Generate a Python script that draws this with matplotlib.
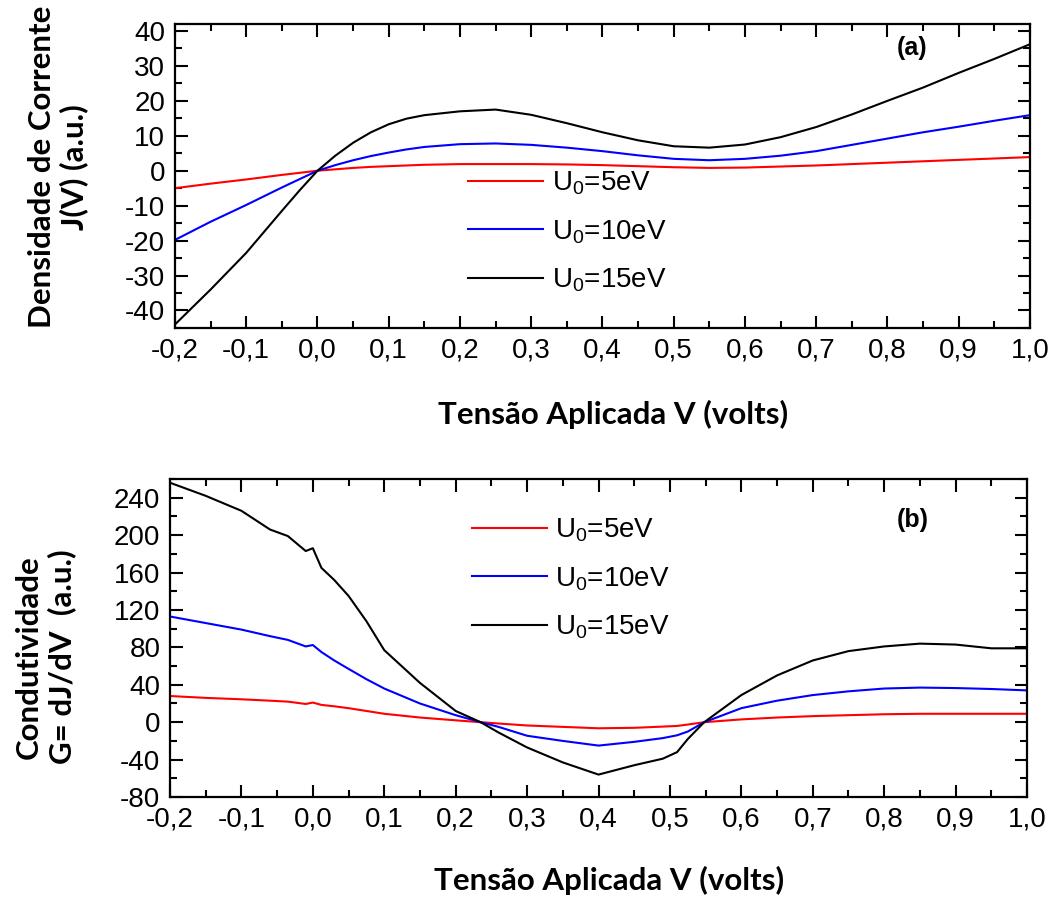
import numpy as np
import matplotlib
matplotlib.use('Agg')
import matplotlib.pyplot as plt
from matplotlib.ticker import MultipleLocator, FuncFormatter

plt.rcParams['font.family'] = ['Liberation Sans', 'DejaVu Sans']
plt.rcParams['mathtext.fontset'] = 'custom'
plt.rcParams['mathtext.rm'] = 'Liberation Sans'
plt.rcParams['mathtext.it'] = 'Liberation Sans'
plt.rcParams['axes.unicode_minus'] = False

# (a) densidade de corrente J(V)
vTop = [-0.2, -0.15, -0.1, -0.05, -0.025, 0.0, 0.025, 0.05, 0.075, 0.1, 0.125, 0.15,
        0.2, 0.25, 0.3, 0.35, 0.4, 0.45, 0.5, 0.55, 0.6, 0.65, 0.7, 0.75, 0.8, 0.85,
        0.9, 0.95, 1.0]
jU5 = [-5.0, -3.7, -2.5, -1.2, -0.6, 0.0, 0.4, 0.8, 1.1, 1.3, 1.5, 1.7,
       1.9, 1.9, 1.9, 1.8, 1.6, 1.3, 1.0, 0.8, 0.9, 1.2, 1.5, 1.9, 2.3, 2.7,
       3.1, 3.5, 3.9]
jU10 = [-19.8, -14.6, -9.8, -4.8, -2.4, 0.0, 1.6, 3.0, 4.2, 5.2, 6.1, 6.8,
        7.6, 7.8, 7.4, 6.6, 5.6, 4.4, 3.4, 3.0, 3.4, 4.3, 5.6, 7.4, 9.2, 11.0,
        12.6, 14.3, 15.9]
jU15 = [-44.0, -34.0, -23.5, -11.5, -5.6, 0.0, 4.3, 8.0, 11.0, 13.3, 14.9, 15.9,
        17.0, 17.5, 16.0, 13.6, 11.0, 8.7, 7.0, 6.6, 7.5, 9.6, 12.5, 16.1, 20.0, 23.8,
        28.0, 32.0, 36.2]

# (b) condutividade G = dJ/dV
vBot = [-0.2, -0.15, -0.1, -0.06, -0.035, -0.01, 0.0, 0.012, 0.03, 0.05, 0.075, 0.1,
        0.15, 0.2, 0.235, 0.26, 0.3, 0.35, 0.4, 0.45, 0.49, 0.51, 0.525, 0.548,
        0.6, 0.65, 0.7, 0.75, 0.8, 0.85, 0.9, 0.95, 1.0]
gU5 = [28, 26, 24.5, 23, 22, 19.5, 21, 18.5, 17, 15, 12, 9,
       5, 2, 0, -1.4, -3.5, -5, -6.5, -6, -4.7, -4, -2.5, 0,
       3, 5, 6.5, 7.5, 8.5, 9, 9, 9, 9]
gU10 = [113, 106, 99, 92, 88, 81, 82.5, 75, 66, 57, 46, 36,
        20, 7.5, 0, -5, -14.5, -20, -25, -21, -17, -14, -10, 0,
        15, 23, 29, 33, 36, 37, 36.5, 35.5, 34]
gU15 = [256, 242, 226, 206, 199, 183, 186, 165, 152, 135, 108, 77,
        42, 12, 0, -11, -27, -43, -56, -46, -39, -32, -18, 0,
        29, 50, 66, 76, 81, 84, 83, 79, 79]

labels = [r'U$_0$=5eV', r'U$_0$=10eV', r'U$_0$=15eV']
colors = ['#ff0000', '#0000ff', '#000000']

boldFont = dict(family='Lato', weight='bold', size=22.5)


def commaFmt(x, pos):
    return ('%.1f' % x).replace('.', ',')


def styleAxis(ax, yMajor, yMinor):
    ax.set_xlim(-0.2, 1.0)
    ax.xaxis.set_major_locator(MultipleLocator(0.1))
    ax.xaxis.set_minor_locator(MultipleLocator(0.05))
    ax.xaxis.set_major_formatter(FuncFormatter(commaFmt))
    ax.yaxis.set_major_locator(MultipleLocator(yMajor))
    ax.yaxis.set_minor_locator(MultipleLocator(yMinor))
    ax.tick_params(which='both', direction='in', top=True, right=True, width=1.5)
    ax.tick_params(which='major', length=9, labelsize=20, pad=7)
    ax.tick_params(which='minor', length=5)
    for s in ax.spines.values():
        s.set_linewidth(1.6)


fig = plt.figure(figsize=(10.58, 9.11), dpi=100)
ax1 = fig.add_axes([0.1654, 0.640, 0.8081, 0.3337])
ax2 = fig.add_axes([0.1607, 0.1251, 0.8100, 0.3491])

for y, lab, c in zip([jU5, jU10, jU15], labels, colors):
    ax1.plot(vTop, y, color=c, lw=1.5, label=lab)
for y, lab, c in zip([gU5, gU10, gU15], labels, colors):
    ax2.plot(vBot, y, color=c, lw=1.5, label=lab)

styleAxis(ax1, 10, 5)
ax1.set_ylim(-45, 42)
styleAxis(ax2, 40, 20)
ax2.set_ylim(-80, 260)

for ax, anchor in [(ax1, (0.343, 0.52)), (ax2, (0.352, 0.881))]:
    ax.legend(loc='upper left', bbox_to_anchor=anchor, frameon=False, fontsize=20,
              handlelength=2.7, handletextpad=0.3, labelspacing=0.75,
              borderpad=0, borderaxespad=0)

ax1.text(0.862, 0.921, '(a)', transform=ax1.transAxes, fontsize=18, fontweight='bold',
         ha='center', va='center')
ax2.text(0.867, 0.871, '(b)', transform=ax2.transAxes, fontsize=18, fontweight='bold',
         ha='center', va='center')

ax1.set_xlabel('Tensão Aplicada V (volts)', **boldFont)
ax1.xaxis.set_label_coords(0.512, -0.286)
ax1.xaxis.label.set_va('center')
ax2.set_xlabel('Tensão Aplicada V (volts)', **boldFont)
ax2.xaxis.set_label_coords(0.512, -0.262)
ax2.xaxis.label.set_va('center')

ax1.set_ylabel('Densidade de Corrente\nJ(V) (a.u.)', linespacing=1.15, **boldFont)
ax1.yaxis.set_label_coords(-0.137, 0.53)
ax1.yaxis.label.set_va('center')
ax2.set_ylabel('Condutividade\nG= dJ/dV  (a.u.)', linespacing=1.2, **boldFont)
ax2.yaxis.set_label_coords(-0.145, 0.44)
ax2.yaxis.label.set_va('center')

fig.savefig('out.png', dpi=100)
